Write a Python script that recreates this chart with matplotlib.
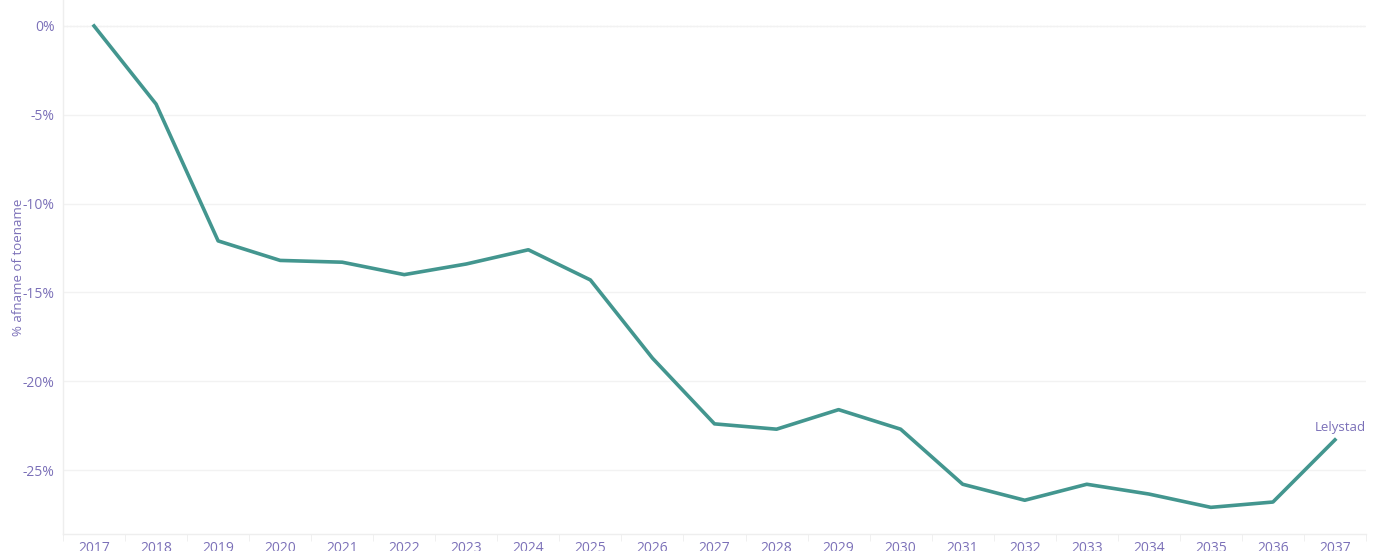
import numpy as np
import matplotlib.pyplot as plt
from matplotlib.ticker import FuncFormatter

years = [str(y) for y in range(2017, 2038)]
change = [0.0, -4.4, -12.1, -13.2, -13.3, -14.0, -13.4, -12.6, -14.3, -18.7,
          -22.4, -22.7, -21.6, -22.7, -25.8, -26.7, -25.8, -26.35, -27.1, -26.8, -23.3]
series_name = 'Lelystad'

text_col = '#7b70b8'
line_col = '#43968f'
grid_col = '#f2f2f2'

plt.rcParams['font.family'] = ['Open Sans', 'DejaVu Sans']

fig = plt.figure(figsize=(13.8, 5.51), dpi=100)
ax = fig.add_axes([63 / 1380, 1 - 534 / 551, (1366 - 63) / 1380, 534 / 551])

x = np.arange(len(years))
ax.plot(x, change, color=line_col, linewidth=2.6, solid_joinstyle='round', zorder=3)
ax.annotate(series_name, (x[-1], change[-1]), xytext=(22, 4), textcoords='offset points',
            color=text_col, fontsize=9.5, ha='right', va='bottom')

ax.set_xlim(-0.5, len(years) - 0.5)
ax.set_ylim(-28.6, 1.46)

ax.set_yticks([0, -5, -10, -15, -20, -25])
ax.yaxis.set_major_formatter(FuncFormatter(lambda v, p: f'{v:.0f}%'))
ax.set_xticks(x)
ax.set_xticklabels(years)
ax.set_xticks(np.arange(len(years) + 1) - 0.5, minor=True)

ax.grid(axis='y', color=grid_col, linewidth=1, zorder=0)
ax.axhline(0, color='#b0b0b0', linewidth=0.8, linestyle=(0, (1, 2)), zorder=1)

for s in ['top', 'right']:
    ax.spines[s].set_visible(False)
for s in ['left', 'bottom']:
    ax.spines[s].set_color('#eeeeee')
    ax.spines[s].set_linewidth(1)

ax.tick_params(axis='y', length=0, pad=6, labelsize=10, labelcolor=text_col)
ax.tick_params(axis='x', which='major', length=0, pad=5, labelsize=10, labelcolor=text_col)
ax.tick_params(axis='x', which='minor', length=5, color='#eeeeee')

ax.set_ylabel('% afname of toename', color=text_col, fontsize=9.5)
ax.yaxis.set_label_coords(-38 / 1303, 0.5)

fig.savefig('out.png', dpi=100)
